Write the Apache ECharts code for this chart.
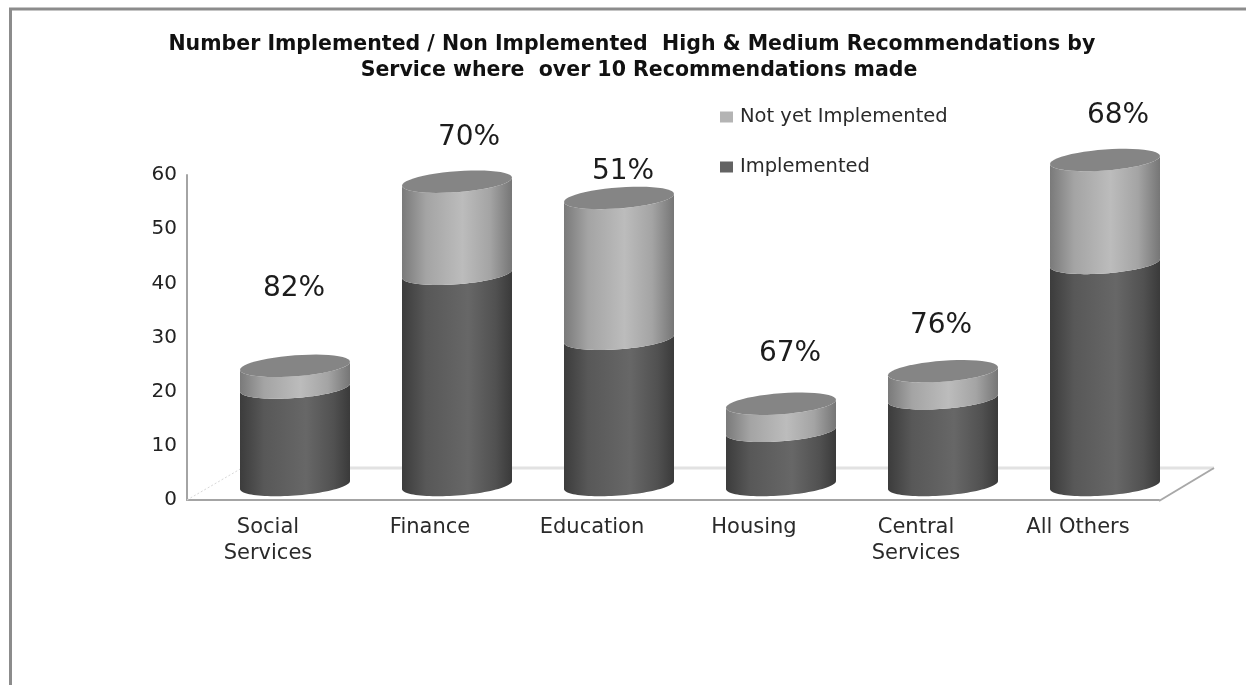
<!DOCTYPE html>
<html>
<head>
<meta charset="utf-8">
<title>Recommendations by Service</title>
<style>
  html, body { margin: 0; padding: 0; background: #fff; overflow: hidden; }
  #chart { width: 1246px; height: 685px; }
</style>
<script src="https://cdn.jsdelivr.net/npm/echarts@6/dist/echarts.min.js"></script>
</head>
<body>
<div id="chart"></div>
<script>
// Chart values
const categories = ['Social\nServices', 'Finance', 'Education', 'Housing', 'Central\nServices', 'All Others'];
const implemented = [18, 39, 27, 10, 16, 41];
const notYetImplemented = [4, 17, 26, 5, 5, 19];
const yTicks = { min: 0, max: 60, interval: 10 };

// Free placement of each percentage label, relative to the centre of its column's cap
const pctNudge = [[-1, -77], [12, -44], [4, -26], [9, -50], [-2, -46], [13, -44]];

// Drawing constants for the pseudo-3D floor and cylinders
const DEPTH_X = 55, DEPTH_Y = 32;          // full floor depth
const COL_DX = 27, COL_DY = 15;            // column base sits mid-way into the floor
const BAND_FILL = 110 / 162;               // column width as a share of a category band
const CAP_B = 10.5, CAP_TILT = 4;          // ellipse semi-minor axis and skew
const FONT = '"DejaVu Sans", sans-serif';

const sideGradient = (stops) => ({
  type: 'linear', x: 0, y: 0, x2: 1, y2: 0,
  colorStops: stops.map(([offset, color]) => ({ offset, color }))
});
const darkSide = sideGradient([[0, '#3c3c3c'], [0.22, '#585858'], [0.6, '#676767'], [0.85, '#515151'], [1, '#3a3a3a']]);
const lightSide = sideGradient([[0, '#7a7a7a'], [0.22, '#a4a4a4'], [0.55, '#bcbcbc'], [0.8, '#a4a4a4'], [1, '#767676']]);

// Points along a skewed ellipse between two angles
function arc(cx, cy, a, from, to) {
  const pts = [];
  const steps = 48;
  for (let k = 0; k <= steps; k++) {
    const t = from + (to - from) * k / steps;
    pts.push([cx + a * Math.cos(t), cy + CAP_B * Math.sin(t) - CAP_TILT * Math.cos(t)]);
  }
  return pts;
}

// One stacked cylinder segment, running between two values on the y axis
function cylinderSegment(fill, withCap) {
  return function (params, api) {
    const i = api.value(0);
    const a = api.size([1, 0])[0] * BAND_FILL / 2;
    const base = api.coord([i, api.value(1)]);
    const top = api.coord([i, api.value(2)]);
    const cx = base[0] + COL_DX;
    const yb = base[1] - COL_DY, yt = top[1] - COL_DY;
    const lower = arc(cx, yb, a, 0, Math.PI);
    const upper = arc(cx, yt, a, Math.PI, 0);
    const children = [{
      type: 'polygon',
      shape: { points: lower.concat(upper) },
      style: { fill: fill }
    }];
    if (withCap) {
      children.push({
        type: 'polygon',
        shape: { points: arc(cx, yt, a, 0, Math.PI * 2) },
        style: { fill: '#858585' }
      });
    }
    return { type: 'group', children };
  };
}

// Floor of the plot: back edge, right edge and the faint left edge
function renderFloor(params, api) {
  const half = api.size([1, 0])[0] / 2;
  const left = api.coord([0, 0]);
  const right = api.coord([categories.length - 1, 0]);
  const x0 = left[0] - half, x1 = right[0] + half, y0 = left[1];
  return {
    type: 'group',
    children: [
      { type: 'line', shape: { x1: x0 + DEPTH_X, y1: y0 - DEPTH_Y, x2: x1 + DEPTH_X, y2: y0 - DEPTH_Y },
        style: { stroke: '#e2e2e2', lineWidth: 3 } },
      { type: 'line', shape: { x1: x0, y1: y0, x2: x0 + DEPTH_X, y2: y0 - DEPTH_Y },
        style: { stroke: '#d8d8d8', lineWidth: 1, lineDash: [2, 2] } },
      { type: 'line', shape: { x1: x1, y1: y0 + 1, x2: x1 + DEPTH_X, y2: y0 - DEPTH_Y },
        style: { stroke: '#a8a8a8', lineWidth: 2 } }
    ]
  };
}

// Percentage implemented, floated above each column
function renderPct(params, api) {
  const i = api.value(0);
  const top = api.coord([i, api.value(1)]);
  const nudge = pctNudge[i];
  return {
    type: 'text',
    x: top[0] + COL_DX + nudge[0],
    y: top[1] - COL_DY + nudge[1],
    style: {
      text: api.value(2) + '%',
      fontFamily: FONT,
      fontSize: 28,
      fill: '#1c1c1c',
      align: 'center',
      verticalAlign: 'middle'
    }
  };
}

const totals = implemented.map((v, i) => v + notYetImplemented[i]);
const percents = implemented.map((v, i) => Math.round(100 * v / totals[i]));

const chart = echarts.init(document.getElementById('chart'));
chart.setOption({
  animation: false,
  backgroundColor: '#fff',
  title: {
    text: 'Number Implemented / Non Implemented  High & Medium Recommendations by  \nService where  over 10 Recommendations made',
    left: 634,
    top: 27,
    textAlign: 'center',
    textStyle: { fontFamily: FONT, fontSize: 20.5, fontWeight: 'bold', color: '#111', lineHeight: 26 }
  },
  legend: {
    data: ['Not yet Implemented', 'Implemented'],
    orient: 'vertical',
    left: 715,
    top: 102,
    itemWidth: 13,
    itemHeight: 11,
    itemGap: 30,
    icon: 'rect',
    textStyle: { fontFamily: FONT, fontSize: 19.5, color: '#2a2a2a', lineHeight: 20, padding: [0, 0, 0, 2] }
  },
  grid: { left: 187, right: 87, top: 175, bottom: 185 },
  xAxis: {
    type: 'category',
    data: categories,
    axisLine: { show: true, lineStyle: { color: '#a4a4a4', width: 2 } },
    axisTick: { show: false },
    axisLabel: { fontFamily: FONT, fontSize: 21, color: '#2a2a2a', margin: 15, lineHeight: 26, interval: 0 }
  },
  yAxis: {
    type: 'value',
    min: yTicks.min,
    max: yTicks.max,
    interval: yTicks.interval,
    axisLine: { show: true, lineStyle: { color: '#a4a4a4', width: 2 } },
    axisTick: { show: false },
    splitLine: { show: false },
    axisLabel: { fontFamily: FONT, fontSize: 20, color: '#222', margin: 10, padding: [3, 0, 0, 0] }
  },
  graphic: [{
    type: 'polyline',
    shape: { points: [[10.5, 685], [10.5, 9], [1246, 9]] },
    style: { stroke: '#8c8c8c', lineWidth: 3, fill: 'none' },
    silent: true
  }],
  series: [
    {
      type: 'custom', name: 'floor', z: 1, silent: true,
      data: [[0]], encode: { x: 0 },
      renderItem: renderFloor
    },
    {
      type: 'custom', name: 'Implemented', z: 2, silent: true,
      itemStyle: { color: '#636363' },
      encode: { x: 0, y: [1, 2] },
      data: implemented.map((v, i) => [i, 0, v]),
      renderItem: cylinderSegment(darkSide, false)
    },
    {
      type: 'custom', name: 'Not yet Implemented', z: 3, silent: true,
      itemStyle: { color: '#b4b4b4' },
      encode: { x: 0, y: [1, 2] },
      data: notYetImplemented.map((v, i) => [i, implemented[i], totals[i]]),
      renderItem: cylinderSegment(lightSide, true)
    },
    {
      type: 'custom', name: 'pct', z: 4, silent: true,
      encode: { x: 0, y: 1 },
      data: totals.map((t, i) => [i, t, percents[i]]),
      renderItem: renderPct
    }
  ]
});
</script>
</body>
</html>
